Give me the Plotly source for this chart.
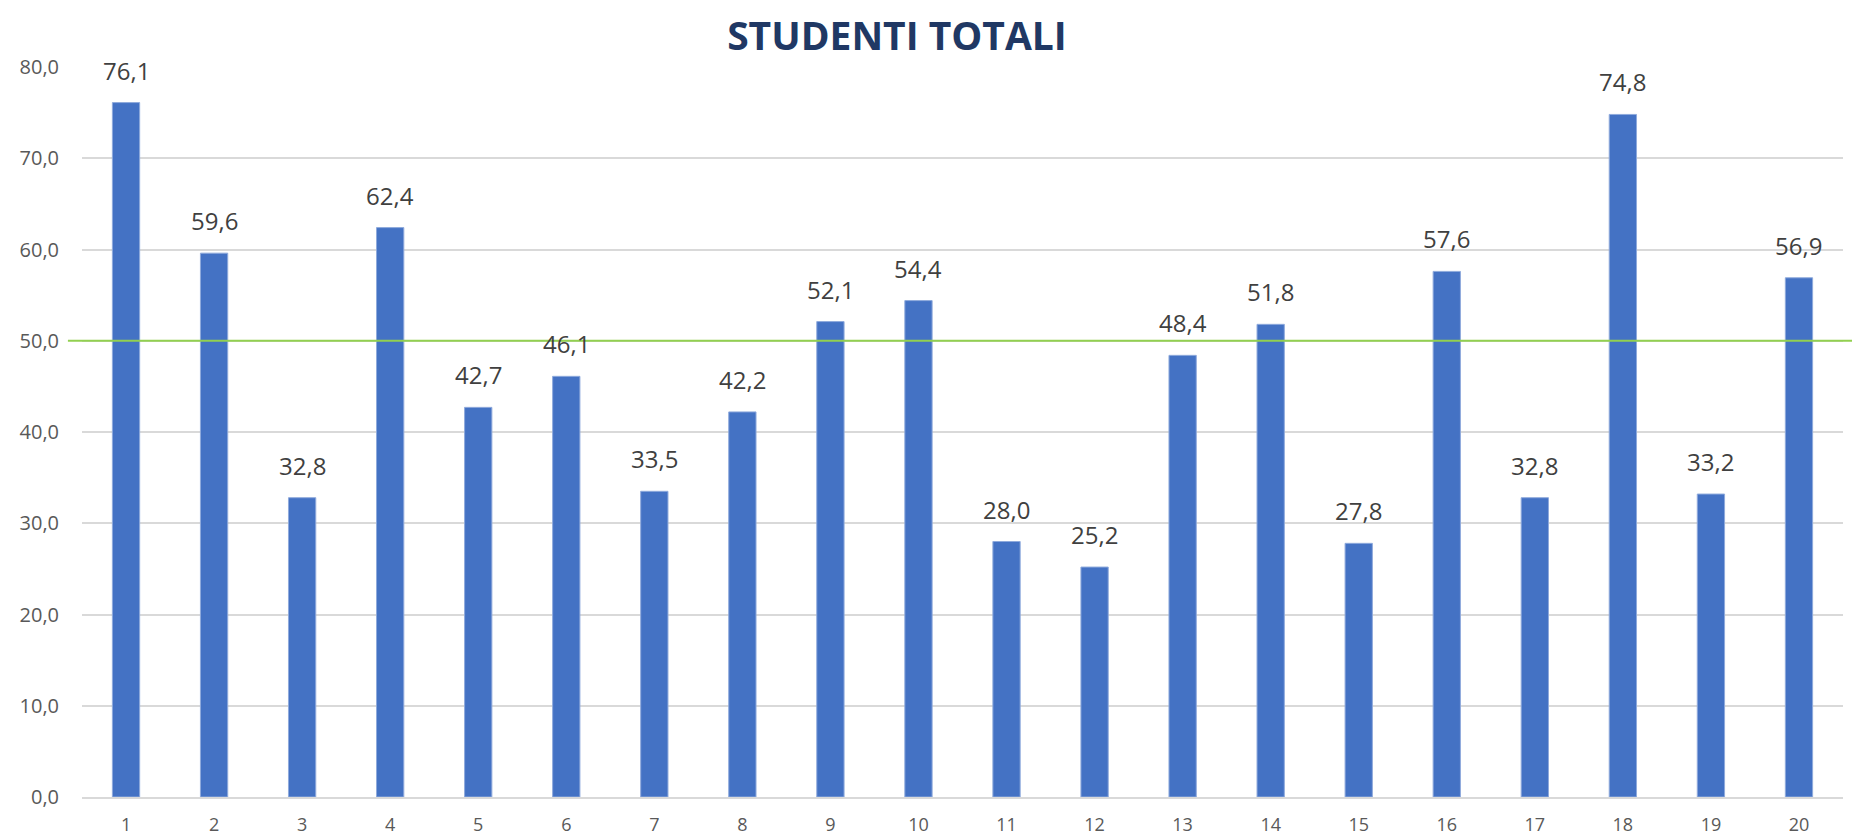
import plotly.graph_objects as go

categories = list(range(1, 21))
values = [76.1, 59.6, 32.8, 62.4, 42.7, 46.1, 33.5, 42.2, 52.1, 54.4,
          28.0, 25.2, 48.4, 51.8, 27.8, 57.6, 32.8, 74.8, 33.2, 56.9]
threshold = 50
y_ticks = [0, 10, 20, 30, 40, 50, 60, 70, 80]

fig = go.Figure()
fig.add_trace(go.Bar(
    x=categories, y=values,
    marker=dict(color="#4472C4", line=dict(color="#8FAADC", width=1)),
    hoverinfo="x+y",
))

for c, v in zip(categories, values):
    fig.add_annotation(
        x=c, y=v, xref="x", yref="y",
        text=f"{v:.1f}".replace(".", ","),
        showarrow=False, yanchor="bottom", yshift=14,
        font=dict(family="Open Sans", size=24, color="#404040"),
    )

fig.add_shape(type="line", xref="paper", yref="y",
              x0=-0.008, x1=1.01, y0=threshold, y1=threshold,
              line=dict(color="#92D050", width=2), layer="above")

fig.update_layout(
    width=1852, height=831,
    margin=dict(l=74, r=17, t=59, b=42, autoexpand=False),
    paper_bgcolor="white", plot_bgcolor="white",
    separators=",.",
    showlegend=False,
    bargap=0.69,
    title=dict(text="<b>STUDENTI TOTALI</b>", x=0.480, xanchor="center",
               y=0.966, yanchor="middle",
               font=dict(family="Open Sans", size=39, color="#203864")),
    xaxis=dict(type="linear", range=[0.5, 20.5], tickvals=categories,
               showgrid=False, zeroline=False,
               showline=True, linecolor="#D9D9D9", linewidth=2,
               tickfont=dict(family="Open Sans", size=18, color="#595959"),
               ticks="", ticklabelstandoff=10),
    yaxis=dict(range=[0, 80], tickvals=y_ticks, tickformat=".1f",
               showgrid=True, gridcolor="#D9D9D9", gridwidth=2,
               zeroline=False, showline=False,
               tickfont=dict(family="Open Sans", size=20, color="#595959"),
               ticklabelstandoff=22),
)

fig.write_html("out.html")
